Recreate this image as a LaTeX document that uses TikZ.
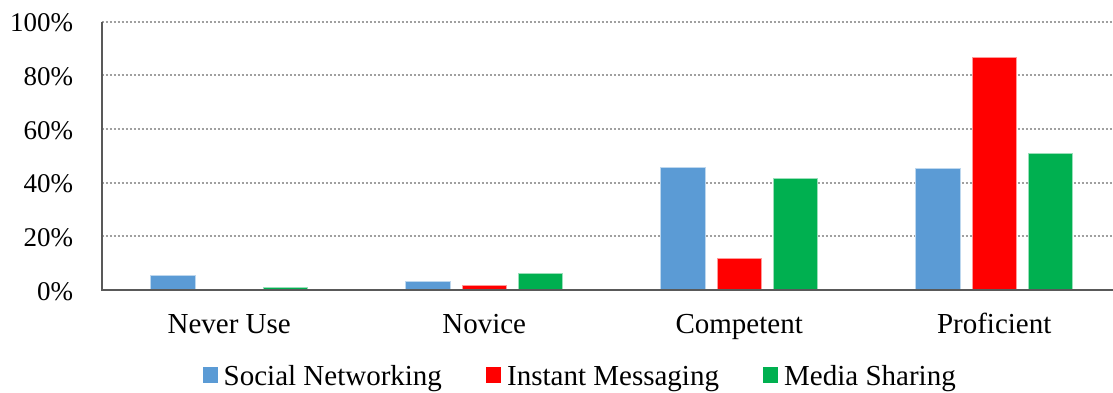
\documentclass[tikz,border=0pt]{standalone}
\usepackage{fontspec}
\setmainfont{Liberation Serif}
\newfontfamily\tnr{Liberation Serif}
\definecolor{sn}{HTML}{5B9BD5}
\definecolor{im}{HTML}{FF0000}
\definecolor{ms}{HTML}{00B050}
\definecolor{axisgray}{HTML}{595959}
\definecolor{gridgray}{HTML}{A0A0A0}
\begin{document}
\begin{tikzpicture}[x=1pt,y=1pt,
  gridline/.style={gridgray,line width=2pt,dash pattern=on 2pt off 2pt},
  axisline/.style={axisgray,line width=2pt},
  ticklabel/.style={anchor=base east,inner sep=0pt,font=\tnr\fontsize{27}{32}\selectfont},
  catlabel/.style={anchor=base,inner sep=0pt,font=\tnr\fontsize{29}{34}\selectfont},
  legtext/.style={anchor=base west,inner sep=0pt,font=\tnr\fontsize{29}{34}\selectfont},
  barSN/.style={fill=sn,draw=sn!40!white,line width=0.6pt},
  barIM/.style={fill=im,draw=im!40!white,line width=0.6pt},
  barMS/.style={fill=ms,draw=ms!40!white,line width=0.6pt}]
\useasboundingbox (0,0) rectangle (1113,392);
% gridlines
\foreach \v in {20,40,60,80,100}{
  \draw[gridline] (101.7,{102+2.683*\v}) -- (1113,{102+2.683*\v});
}
% tick labels
\node[ticklabel] (t0) at (73.3,92) {0\%};
\node[ticklabel] (t20) at (73.3,{102+2.683*20-10}) {20\%};
\node[ticklabel] (t40) at (73.3,{102+2.683*40-10}) {40\%};
\node[ticklabel] (t60) at (73.3,{102+2.683*60-10}) {60\%};
\node[ticklabel] (t80) at (73.3,{102+2.683*80-10}) {80\%};
\node[ticklabel] (t100) at (73.3,{102+2.683*100-10}) {100\%};
% bars
\foreach \c/\a/\b/\d in {229.2/5.6/0/1.1, 484.2/3.2/1.6/6.2, 739.2/45.7/11.7/41.6, 994.2/45.4/86.7/50.9}{
  \filldraw[barSN] ({\c-56.3-22.15},102) rectangle ({\c-56.3+22.15},{102+2.683*\a});
  \ifdim \b pt>0pt
  \filldraw[barIM] ({\c-22.15},102) rectangle ({\c+22.15},{102+2.683*\b});
  \fi
  \filldraw[barMS] ({\c+56.3-22.15},102) rectangle ({\c+56.3+22.15},{102+2.683*\d});
}
% axes
\draw[axisline] (101.7,{102+2.683*100}) -- (101.7,102) -- (1113,102);
% category labels
\node[catlabel] (c1) at (229.2,58.7) {Never Use};
\node[catlabel] (c2) at (484.2,58.7) {Novice};
\node[catlabel] (c3) at (739.2,58.7) {Competent};
\node[catlabel] (c4) at (994.2,58.7) {Proficient};
% legend
\fill[sn] (202.8,9.3) rectangle (217.7,24.7);
\node[legtext] (l1) at (223.5,7) {Social Networking};
\fill[im] (486,9.3) rectangle (500.7,24.7);
\node[legtext] (l2) at (507,7) {Instant Messaging};
\fill[ms] (763,9.3) rectangle (777.5,24.7);
\node[legtext] (l3) at (784,7) {Media Sharing};
\end{tikzpicture}
\end{document}
